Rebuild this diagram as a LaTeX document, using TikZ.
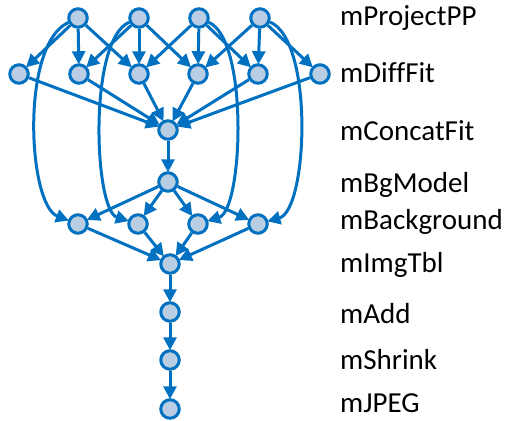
\documentclass[tikz,border=0pt]{standalone}
\usepackage{fontspec}
\setmainfont[Ligatures=NoCommon]{Carlito}
\usetikzlibrary{arrows.meta}
\definecolor{edgeblue}{HTML}{0070C0}
\definecolor{nodefill}{HTML}{B9CDE5}
\begin{document}
\begin{tikzpicture}[x=1pt,y=-1pt,
  job/.style={circle,draw=edgeblue,fill=nodefill,line width=3pt,minimum size=18.5pt,inner sep=0pt},
  flow/.style={draw=edgeblue,line width=3pt,-{Triangle[length=13pt,width=13pt]},shorten >=-1pt},
  lbl/.style={anchor=west,font=\fontsize{29}{32}\selectfont,inner sep=0pt}]
\useasboundingbox (0,0) rectangle (507,421);
% mProjectPP
\node[job] (P1) at (78,18) {};
\node[job] (P2) at (139,18) {};
\node[job] (P3) at (199,18) {};
\node[job] (P4) at (260,18) {};
% mDiffFit
\node[job] (D1) at (19,74) {};
\node[job] (D2) at (79,74) {};
\node[job] (D3) at (139,74) {};
\node[job] (D4) at (198,74) {};
\node[job] (D5) at (258,74) {};
\node[job] (D6) at (320,74) {};
% mConcatFit, mBgModel
\node[job] (C) at (168,130) {};
\node[job] (M) at (168,182) {};
% mBackground
\node[job] (B1) at (78,224) {};
\node[job] (B2) at (138,224) {};
\node[job] (B3) at (198,224) {};
\node[job] (B4) at (258,224) {};
% mImgTbl, mAdd, mShrink, mJPEG
\node[job] (T) at (170,264) {};
\node[job] (A) at (170,312) {};
\node[job] (S) at (170,360) {};
\node[job] (J) at (170,409) {};

% projections feed the difference fits
\foreach \p/\a/\b/\c in {P1/D1/D2/D3, P2/D2/D3/D4, P3/D3/D4/D5, P4/D4/D5/D6}{
  \draw[flow] (\p) -- (\a);
  \draw[flow] (\p) -- (\b);
  \draw[flow] (\p) -- (\c);
}
% projections also go straight to background correction
\draw[flow] (P1) .. controls (20,45) and (28,205) .. (B1);
\draw[flow] (P2) .. controls (88,40) and (94,210) .. (B2);
\draw[flow] (P3) .. controls (249,40) and (243,210) .. (B3);
\draw[flow] (P4) .. controls (314,40) and (308,210) .. (B4);
% fits are concatenated
\foreach \d in {D1,D2,D3,D4,D5,D6}{ \draw[flow] (\d) -- (C); }
\draw[flow] (C) -- (M);
\foreach \b in {B1,B2,B3,B4}{ \draw[flow] (M) -- (\b); \draw[flow] (\b) -- (T); }
\draw[flow] (T) -- (A);
\draw[flow] (A) -- (S);
\draw[flow] (S) -- (J);

% stage names
\node[lbl] (L1) at (340,18) {mProjectPP};
\node[lbl] (L2) at (340,73) {mDiffFit};
\node[lbl] (L3) at (340,131) {mConcatFit};
\node[lbl] (L4) at (340,185) {mBgModel};
\node[lbl] (L5) at (340,222) {mBackground};
\node[lbl] (L6) at (340,265) {mImgTbl};
\node[lbl] (L7) at (340,314) {mAdd};
\node[lbl] (L8) at (340,360) {mShrink};
\node[lbl] (L9) at (340,403) {mJPEG};
\end{tikzpicture}
\end{document}
